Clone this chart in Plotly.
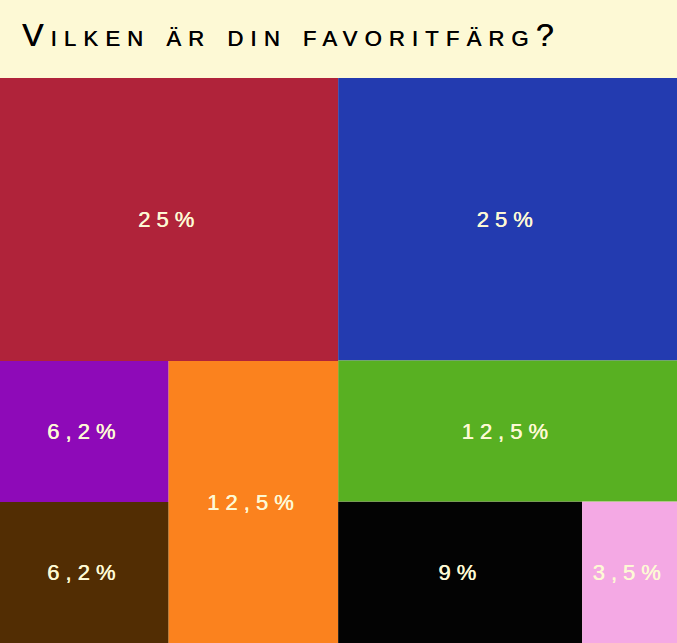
import plotly.graph_objects as go

# Leaf data
farger = ["Röd", "Blå", "Lila", "Brun", "Orange", "Grön", "Svart", "Rosa"]
andelar = [25, 25, 6.2, 6.2, 12.5, 12.5, 9, 3.5]
fargkoder = ["#b0233a", "#233bb0", "#8e0ab8", "#522d03", "#fb821e", "#58b022", "#030303", "#f4a9e4"]
foraldrar = ["vänster", "höger", "vänster_kolumn", "vänster_kolumn", "vänster_nedre",
             "höger", "höger_nedre", "höger_nedre"]

# Grouping nodes (layout hierarchy)
grupper = ["alla", "vänster", "höger", "vänster_nedre", "vänster_kolumn", "höger_nedre"]
grupp_foralder = ["", "alla", "alla", "vänster", "vänster_nedre", "höger"]

titel = "Vilken är din favoritfärg?"

CREAM = "#fdf9d5"
FONT = "Liberation Sans, Arial, Helvetica, sans-serif"

leaf_val = dict(zip(farger, andelar))
leaf_col = dict(zip(farger, fargkoder))
leaf_par = dict(zip(farger, foraldrar))


def fmt(v):
    s = ("%g" % v).replace(".", ",")
    return s + "%"


def spaced(s, px):
    return '<span style="letter-spacing:%.1fpx">%s</span>' % (px, s)


children = {}
for n, p in list(leaf_par.items()) + list(zip(grupper, grupp_foralder)):
    children.setdefault(p, []).append(n)


def total(n):
    if n in leaf_val:
        return leaf_val[n]
    return sum(total(c) for c in children.get(n, []))


ids, parents, values, colors, texts = [], [], [], [], []

order = {
    "alla": ["vänster", "höger"],
    "vänster": ["Röd", "vänster_nedre"],
    "vänster_nedre": ["vänster_kolumn", "Orange"],
    "vänster_kolumn": ["Lila", "Brun"],
    "höger": ["Blå", "Grön", "höger_nedre"],
    "höger_nedre": ["Svart", "Rosa"],
}


def walk(node, parent):
    ids.append(node)
    parents.append(parent)
    values.append(total(node))
    if node in leaf_val:
        colors.append(leaf_col[node])
        texts.append(spaced(fmt(leaf_val[node]), 6))
    else:
        colors.append(CREAM)
        texts.append("")
    for c in order.get(node, []):
        walk(c, node)


walk("alla", "")

fig = go.Figure(go.Treemap(
    ids=ids,
    labels=ids,
    parents=parents,
    values=values,
    branchvalues="total",
    sort=False,
    text=texts,
    texttemplate="%{text}",
    textposition="middle center",
    textfont=dict(family=FONT, size=22, color=CREAM,
                  shadow="0.5px 0px 0px %s" % CREAM),
    marker=dict(colors=colors, line=dict(width=0), pad=dict(t=0, l=0, r=0, b=0)),
    tiling=dict(packing="slice-dice", pad=0),
    pathbar=dict(visible=False),
    hoverinfo="skip",
    domain=dict(x=[0, 1], y=[0, 565 / 643]),
))

fig.update_layout(
    width=677, height=643,
    margin=dict(l=0, r=0, t=0, b=0),
    paper_bgcolor=CREAM,
    title=dict(
        text=spaced(titel, 7.2),
        font=dict(family=FONT, size=32, color="#000000", variant="small-caps",
                  shadow="0.5px 0px 0px #000000"),
        x=22 / 677, xref="paper", xanchor="left",
        y=1 - 35 / 643, yref="container", yanchor="middle",
    ),
)

fig.write_html("out.html", config={"displayModeBar": False},
               post_script="document.body.style.margin='0';document.body.style.overflow='hidden';")
